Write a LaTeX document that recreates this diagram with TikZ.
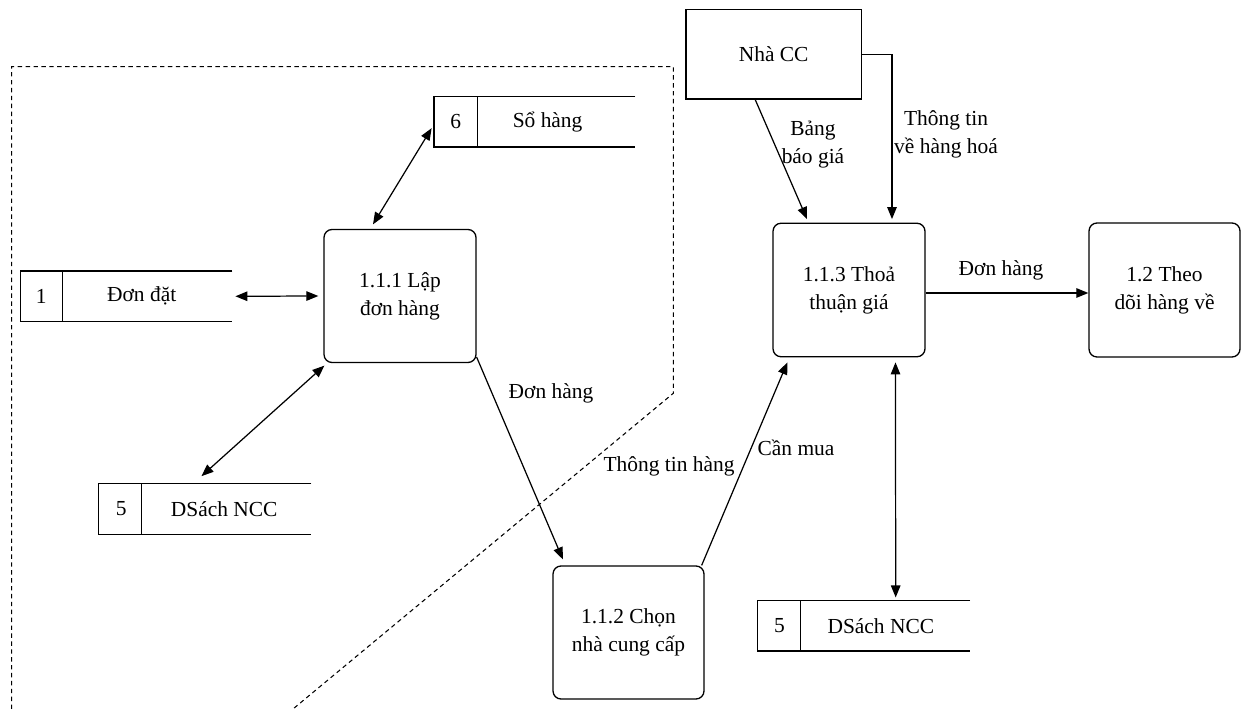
\documentclass[tikz,border=0pt]{standalone}
\usepackage{fontspec}
\setmainfont{Liberation Serif}
\usetikzlibrary{arrows.meta}
\begin{document}
\begin{tikzpicture}[x=0.02cm,y=-0.02cm,
 every node/.style={font=\fontsize{12.2}{16}\selectfont},
 proc/.style={draw, rounded corners=0.16cm, align=center, inner sep=0, line width=0.75pt},
 ext/.style={draw, align=center, inner sep=0, line width=0.75pt},
 storebox/.style={inner sep=0, minimum width=4.23cm, minimum height=1cm},
 storeline/.style={line width=0.75pt},
 flow/.style={line width=0.7pt, -{Triangle[length=0.24cm,width=0.19cm]}},
 biflow/.style={line width=0.7pt, {Triangle[length=0.24cm,width=0.19cm]}-{Triangle[length=0.24cm,width=0.19cm]}},
 lbl/.style={align=center, inner sep=0},
 boundary/.style={line width=0.6pt, dash pattern=on 2.5pt off 2pt}
]
\useasboundingbox (0,0) rectangle (1241,709);

% boundary
\draw[boundary] (11.7,709) -- (11.7,66.7) -- (673.3,66.7) -- (673.3,393.3) -- (293,709);

% processes
\node[proc, minimum width=3.04cm, minimum height=2.66cm] (p111) at (400,296) {1.1.1 Lập\\đơn hàng};
\node[proc, minimum width=3.02cm, minimum height=2.66cm] (p112) at (628.5,632.5) {1.1.2 Chọn\\nhà cung cấp};
\node[proc, minimum width=3.04cm, minimum height=2.67cm] (p113) at (849,290) {1.1.3 Thoả\\thuận giá};
\node[proc, minimum width=3.02cm, minimum height=2.68cm] (p12) at (1164.5,290) {1.2 Theo\\dõi hàng về};
\node[ext, minimum width=3.51cm, minimum height=1.79cm] (ncc) at (773.7,54.2) {Nhà CC};

% stores
\node[storebox, minimum width=4.01cm] (s6) at (534.7,121.7) {};
\draw[storeline] (s6.north east) -- (s6.north west) -- (s6.south west) -- (s6.south east);
\draw[storeline] ([xshift=0.87cm]s6.north west) -- ([xshift=0.87cm]s6.south west);
\node (s6n) at ([xshift=0.43cm]s6.west) {6};
\node (s6t) at ([xshift=2.27cm]s6.west) {Sổ hàng};

\node[storebox] (s1) at (126.3,296.3) {};
\draw[storeline] (s1.north east) -- (s1.north west) -- (s1.south west) -- (s1.south east);
\draw[storeline] ([xshift=0.85cm]s1.north west) -- ([xshift=0.85cm]s1.south west);
\node (s1n) at ([xshift=0.42cm]s1.west) {1};
\node (s1t) at ([xshift=2.43cm]s1.west) {Đơn đặt};

\node[storebox, minimum width=4.24cm] (s5a) at (205,509) {};
\draw[storeline] (s5a.north east) -- (s5a.north west) -- (s5a.south west) -- (s5a.south east);
\draw[storeline] ([xshift=0.86cm]s5a.north west) -- ([xshift=0.86cm]s5a.south west);
\node (s5an) at ([xshift=0.45cm]s5a.west) {5};
\node (s5at) at ([xshift=2.51cm]s5a.west) {DSách NCC};

\node[storebox, minimum width=4.24cm] (s5b) at (863.7,625.8) {};
\draw[storeline] (s5b.north east) -- (s5b.north west) -- (s5b.south west) -- (s5b.south east);
\draw[storeline] ([xshift=0.86cm]s5b.north west) -- ([xshift=0.86cm]s5b.south west);
\node (s5bn) at ([xshift=0.44cm]s5b.west) {5};
\node (s5bt) at ([xshift=2.47cm]s5b.west) {DSách NCC};

% connectors
\draw[biflow] ([xshift=0.06cm]s1.east) -- ([xshift=-0.1cm]p111.west);
\draw[biflow] ([xshift=-0.05cm,yshift=-0.13cm]s6.west) -- ([xshift=-0.54cm,yshift=0.09cm]p111.north);
\draw[biflow] ([xshift=-0.07cm,yshift=0.15cm]s5a.north) -- ([xshift=0.02cm,yshift=-0.05cm]p111.south west);
\draw[flow] ([yshift=0.12cm]p111.south east) -- ([xshift=0.21cm,yshift=0.12cm]p112.north west);
\draw[flow] ([xshift=-0.06cm]p112.north east) -- ([xshift=0.3cm,yshift=-0.1cm]p113.south west);
\draw[flow] ([xshift=-0.37cm]ncc.south) -- ([xshift=-0.84cm,yshift=0.07cm]p113.north);
\draw[flow] (ncc.east) -| ([xshift=0.86cm,yshift=0.07cm]p113.north);
\draw[flow] ([yshift=-0.06cm]p113.east) -- ([yshift=-0.06cm]p12.west);
\draw[biflow] ([xshift=0.93cm,yshift=-0.1cm]p113.south) -- ([xshift=0.64cm,yshift=0.06cm]s5b.north);

% labels
\node[lbl] (l1) at (551,393) {Đơn hàng};
\node[lbl] (l2) at (669,466) {Thông tin hàng};
\node[lbl] (l3) at (796,448) {Cần mua};
\node[lbl] (l4) at (813,145) {Bảng\\báo giá};
\node[lbl] (l5) at (946,134) {Thông tin\\về hàng hoá};
\node[lbl] (l6) at (1001,270) {Đơn hàng};
\end{tikzpicture}
\end{document}
